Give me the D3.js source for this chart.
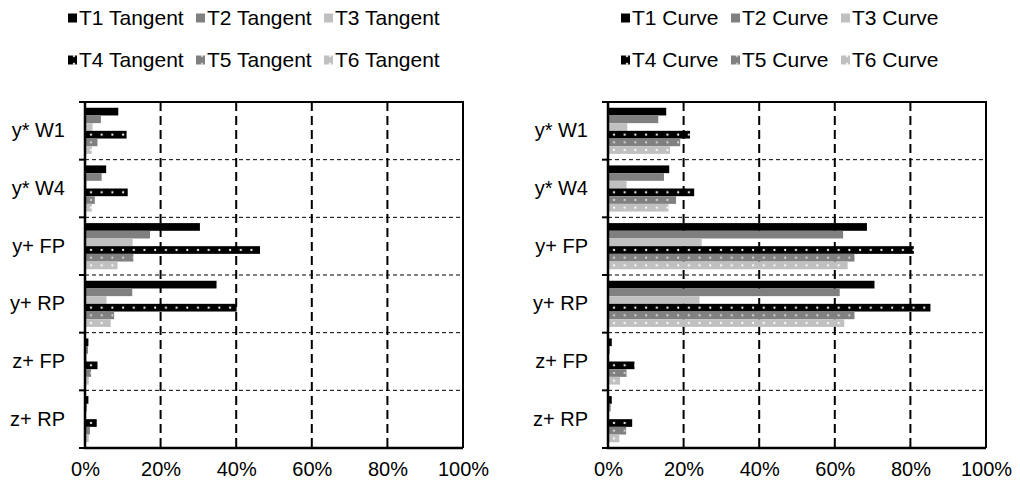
<!DOCTYPE html>
<html>
<head>
<meta charset="utf-8">
<script src="https://cdn.jsdelivr.net/npm/d3@7"></script>
<style>
  body { margin: 0; background: #fff; }
  svg text { font-family: "Liberation Sans", Arial, sans-serif; fill: #000; }
</style>
</head>
<body>
<div id="chart"></div>
<script>
// categories (top to bottom)
const categories = ["y* W1", "y* W4", "y+ FP", "y+ RP", "z+ FP", "z+ RP"];
const xTicks = [0, 20, 40, 60, 80, 100];

const tangentNames = ["T1 Tangent", "T2 Tangent", "T3 Tangent", "T4 Tangent", "T5 Tangent", "T6 Tangent"];
const curveNames = ["T1 Curve", "T2 Curve", "T3 Curve", "T4 Curve", "T5 Curve", "T6 Curve"];

// percentages per category
const tangentT1 = [8.8, 5.6, 30.4, 34.8, 0.9, 0.9];
const tangentT2 = [4.2, 4.4, 17.2, 12.5, 0.8, 0.5];
const tangentT3 = [2.0, 0.5, 12.6, 5.7, 0.5, 0.3];
const tangentT4 = [11.0, 11.3, 46.3, 40.1, 3.3, 3.1];
const tangentT5 = [3.3, 2.6, 12.8, 7.7, 1.6, 1.3];
const tangentT6 = [1.8, 1.8, 8.6, 6.8, 1.0, 1.0];

const curveT1 = [15.4, 16.2, 68.5, 70.5, 1.0, 1.0];
const curveT2 = [13.3, 14.8, 62.2, 61.3, 0.5, 0.7];
const curveT3 = [5.1, 4.9, 24.8, 24.2, 0.3, 0.3];
const curveT4 = [21.7, 22.8, 80.9, 85.3, 7.0, 6.4];
const curveT5 = [19.1, 18.0, 65.2, 65.2, 4.9, 4.8];
const curveT6 = [16.4, 16.0, 63.4, 62.5, 3.2, 3.0];

const fills = ["#000", "#808080", "#c0c0c0", "url(#dotBlack)", "url(#dotGray)", "url(#dotLight)"];

const width = 1020, height = 490;
const svg = d3.select("#chart").append("svg")
    .attr("width", width)
    .attr("height", height);

// dotted patterns for T4..T6 (aligned to each bar's own origin)
const defs = svg.append("defs");
[["dotBlack", "#000", "#fff"], ["dotGray", "#808080", "#d8d8d8"], ["dotLight", "#c0c0c0", "#fff"]].forEach(function(p) {
    const pat = defs.append("pattern")
        .attr("id", p[0])
        .attr("patternUnits", "userSpaceOnUse")
        .attr("width", 10.7)
        .attr("height", 7.69);
    pat.append("rect").attr("width", 10.7).attr("height", 7.69).attr("fill", p[1]);
    pat.append("circle").attr("cx", 6).attr("cy", 3.85).attr("r", 1.1).attr("fill", p[2]);
});

function drawPanel(left, names, series, legendX) {
    const top = 102, bottom = 448, right = left + 378;

    const x = d3.scaleLinear().domain([0, 100]).range([left, right]);
    const y = d3.scaleBand().domain(categories).range([top, bottom])
        .paddingInner(0.2).paddingOuter(0.1);
    const yIn = d3.scaleBand().domain(names).range([0, y.bandwidth()]);

    const g = svg.append("g");

    // vertical gridlines
    g.selectAll(".vgrid")
        .data(xTicks.slice(1, -1))
        .enter().append("line")
        .attr("x1", d => x(d)).attr("x2", d => x(d))
        .attr("y1", top).attr("y2", bottom)
        .attr("stroke", "#000").attr("stroke-width", 2)
        .attr("stroke-dasharray", "9,5");

    // category separators
    const step = y.step();
    const bounds = d3.range(categories.length + 1).map(i => top + i * step);
    g.selectAll(".hgrid")
        .data(bounds.slice(1, -1))
        .enter().append("line")
        .attr("x1", left).attr("x2", right)
        .attr("y1", d => d).attr("y2", d => d)
        .attr("stroke", "#000").attr("stroke-width", 1)
        .attr("stroke-dasharray", "4,3");

    // bars
    names.forEach(function(name, si) {
        g.selectAll(null)
            .data(series[si])
            .enter().append("g")
            .attr("transform", (d, i) => "translate(" + left + "," + (y(categories[i]) + yIn(name)) + ")")
            .append("rect")
            .attr("width", d => x(d) - left)
            .attr("height", yIn.bandwidth())
            .attr("fill", fills[si]);
    });

    // frame: top and right
    g.append("path")
        .attr("d", "M" + left + "," + top + "H" + right + "V" + bottom)
        .attr("fill", "none").attr("stroke", "#000").attr("stroke-width", 2);

    // y ticks at band boundaries
    g.selectAll(".ytick")
        .data(bounds)
        .enter().append("line")
        .attr("x1", left - 6).attr("x2", left)
        .attr("y1", d => d).attr("y2", d => d)
        .attr("stroke", "#000").attr("stroke-width", 2);

    // y axis labels
    const yAxis = g.append("g")
        .attr("transform", "translate(" + left + ",0)")
        .call(d3.axisLeft(y).tickSize(0).tickPadding(20));
    yAxis.select(".domain").remove();
    yAxis.selectAll("text").style("font-size", "20px");

    // x axis
    const xAxis = g.append("g")
        .attr("transform", "translate(0," + bottom + ")")
        .call(d3.axisBottom(x).tickValues(xTicks).tickFormat(d => d + "%").tickSize(0).tickPadding(14));
    xAxis.select(".domain").remove();
    xAxis.selectAll("text").style("font-size", "20px");

    // axis lines
    g.append("path")
        .attr("d", "M" + left + "," + top + "V" + bottom + "H" + right)
        .attr("fill", "none").attr("stroke", "#000").attr("stroke-width", 2.5);

    // legend, two rows of three
    const legend = g.selectAll(".legend")
        .data(names)
        .enter().append("g")
        .attr("transform", (d, i) => "translate(" + legendX[i % 3] + "," + (i < 3 ? 18 : 60) + ")");
    legend.append("rect")
        .attr("x", 0).attr("y", -4.5)
        .attr("width", 9).attr("height", 9)
        .attr("fill", (d, i) => fills[i]);
    legend.append("text")
        .attr("x", 11).attr("dy", "0.35em")
        .style("font-size", "21px")
        .text(d => d);
}

drawPanel(85, tangentNames, [tangentT1, tangentT2, tangentT3, tangentT4, tangentT5, tangentT6], [68, 196, 324]);
drawPanel(608, curveNames, [curveT1, curveT2, curveT3, curveT4, curveT5, curveT6], [621, 731, 841]);
</script>
</body>
</html>
